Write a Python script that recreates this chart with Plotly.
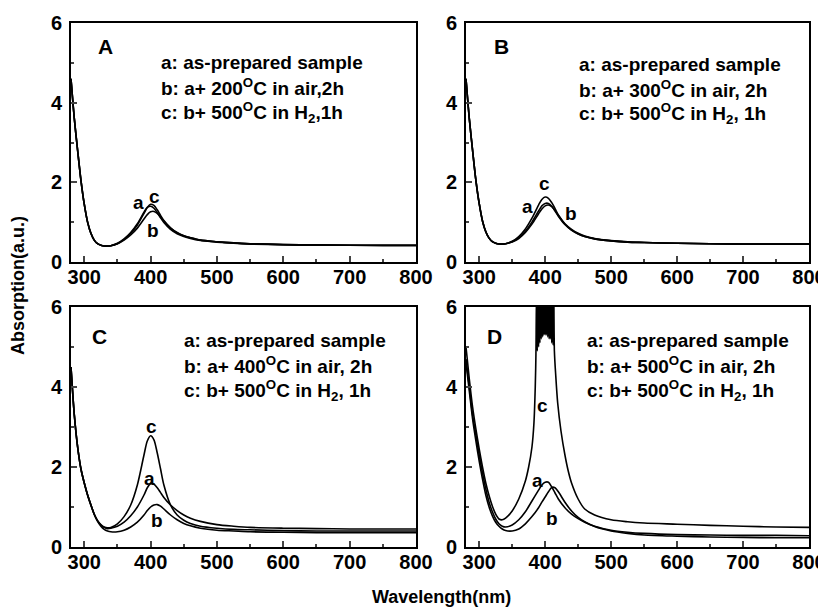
import plotly.graph_objects as go

# ---------------- data ----------------
WL = [280, 285, 290, 295, 300, 305, 310, 315, 320, 325, 330, 335, 340, 350, 360, 370,
      380, 390, 395, 400, 405, 410, 415, 420, 430, 440, 450, 460, 475, 500, 525, 550,
      600, 650, 700, 750, 800]

A_a = [4.6, 3.6, 2.8, 2.05, 1.45, 1.0, 0.72, 0.55, 0.46, 0.42, 0.40, 0.40, 0.41, 0.47, 0.58, 0.74,
       0.96, 1.25, 1.37, 1.40, 1.35, 1.24, 1.11, 0.99, 0.82, 0.71, 0.64, 0.59, 0.54, 0.50, 0.47, 0.45,
       0.43, 0.42, 0.42, 0.41, 0.41]
A_b = [4.6, 3.6, 2.8, 2.05, 1.45, 1.0, 0.72, 0.55, 0.46, 0.42, 0.40, 0.40, 0.41, 0.46, 0.55, 0.68,
       0.85, 1.08, 1.19, 1.26, 1.27, 1.22, 1.13, 1.03, 0.86, 0.74, 0.66, 0.61, 0.55, 0.51, 0.48, 0.46,
       0.44, 0.43, 0.42, 0.42, 0.42]
A_c = [4.6, 3.6, 2.8, 2.05, 1.45, 1.0, 0.72, 0.55, 0.46, 0.42, 0.40, 0.40, 0.41, 0.46, 0.57, 0.72,
       0.93, 1.22, 1.37, 1.45, 1.42, 1.31, 1.17, 1.04, 0.85, 0.73, 0.66, 0.61, 0.55, 0.51, 0.48, 0.46,
       0.44, 0.43, 0.42, 0.42, 0.42]

B_a = [4.6, 3.6, 2.8, 2.05, 1.47, 1.03, 0.76, 0.6, 0.51, 0.47, 0.45, 0.45, 0.46, 0.51, 0.61, 0.77,
       1.0, 1.28, 1.41, 1.47, 1.47, 1.40, 1.28, 1.15, 0.94, 0.80, 0.70, 0.64, 0.58, 0.53, 0.50, 0.49,
       0.47, 0.46, 0.45, 0.45, 0.45]
B_b = [4.6, 3.6, 2.8, 2.05, 1.47, 1.03, 0.76, 0.6, 0.51, 0.47, 0.45, 0.45, 0.46, 0.50, 0.59, 0.74,
       0.95, 1.21, 1.33, 1.41, 1.43, 1.39, 1.29, 1.17, 0.96, 0.82, 0.72, 0.65, 0.59, 0.54, 0.51, 0.49,
       0.47, 0.46, 0.45, 0.45, 0.45]
B_c = [4.6, 3.6, 2.8, 2.05, 1.47, 1.03, 0.76, 0.6, 0.51, 0.47, 0.45, 0.45, 0.46, 0.52, 0.64, 0.83,
       1.1, 1.43, 1.57, 1.63, 1.60, 1.49, 1.34, 1.18, 0.95, 0.80, 0.71, 0.64, 0.58, 0.53, 0.50, 0.49,
       0.47, 0.46, 0.45, 0.45, 0.45]

C_a = [4.5, 3.3, 2.5, 1.95, 1.6, 1.3, 1.05, 0.82, 0.66, 0.55, 0.49, 0.46, 0.47, 0.52, 0.62, 0.78,
       1.0, 1.3, 1.48, 1.58, 1.57, 1.48, 1.36, 1.24, 1.05, 0.91, 0.80, 0.72, 0.64, 0.56, 0.52, 0.49,
       0.47, 0.46, 0.45, 0.45, 0.45]
C_b = [4.5, 3.3, 2.5, 1.95, 1.6, 1.3, 1.05, 0.82, 0.64, 0.52, 0.44, 0.40, 0.38, 0.38, 0.42, 0.50,
       0.62, 0.80, 0.91, 1.0, 1.05, 1.06, 1.02, 0.95, 0.80, 0.68, 0.59, 0.53, 0.47, 0.42, 0.40, 0.38,
       0.37, 0.36, 0.36, 0.36, 0.36]
C_c = [4.5, 3.3, 2.5, 1.95, 1.6, 1.3, 1.05, 0.82, 0.66, 0.56, 0.50, 0.48, 0.49, 0.58, 0.76, 1.05,
       1.55, 2.3, 2.65, 2.78, 2.68, 2.35, 1.95, 1.55, 1.05, 0.80, 0.67, 0.59, 0.52, 0.47, 0.44, 0.43,
       0.41, 0.40, 0.40, 0.40, 0.40]

D_a = [4.7, 4.0, 3.3, 2.8, 2.3, 1.85, 1.45, 1.12, 0.88, 0.70, 0.58, 0.52, 0.50, 0.55, 0.68, 0.88,
       1.15, 1.42, 1.55, 1.62, 1.62, 1.50, 1.35, 1.20, 0.98, 0.82, 0.71, 0.62, 0.52, 0.42, 0.37, 0.34,
       0.31, 0.30, 0.29, 0.29, 0.28]
D_b = [4.6, 3.9, 3.2, 2.65, 2.15, 1.7, 1.3, 1.0, 0.78, 0.62, 0.52, 0.45, 0.41, 0.40, 0.45, 0.58,
       0.76, 0.98, 1.12, 1.25, 1.38, 1.49, 1.48, 1.38, 1.12, 0.90, 0.74, 0.63, 0.51, 0.40, 0.34, 0.30,
       0.27, 0.25, 0.24, 0.23, 0.23]

# panel D, curve c (saturated, noisy around the peak)
DC_WL = [280, 285, 290, 295, 300, 305, 310, 315, 320, 325, 330, 335, 340, 350, 360, 370, 375,
         380, 383, 385, 386, 387, 388, 389, 390, 391, 392, 393, 394, 395, 396, 397, 398, 399,
         400, 401, 402, 403, 404, 405, 406, 407, 408, 409, 410, 411, 412, 413, 414, 416, 419,
         424, 430, 435, 440, 450, 460, 475, 500, 525, 550, 600, 650, 700, 750, 800]
D_c = [5.0, 4.2, 3.5, 2.95, 2.45, 2.0, 1.6, 1.28, 1.02, 0.82, 0.70, 0.68, 0.72, 0.90, 1.2, 1.65, 2.0,
       2.5, 3.1, 4.0, 4.8, 6.5, 4.9, 6.5, 5.0, 6.5, 5.1, 6.5, 5.2, 6.5, 5.25, 6.5, 5.3, 6.5,
       5.3, 6.5, 5.3, 6.5, 5.25, 6.5, 5.2, 6.5, 5.2, 6.5, 5.1, 6.5, 5.05, 6.5, 4.9, 4.3, 3.6,
       2.9, 2.3, 1.9, 1.6, 1.2, 0.95, 0.8, 0.68, 0.63, 0.60, 0.57, 0.54, 0.52, 0.50, 0.49]

PANEL_LETTERS = ["A", "B", "C", "D"]
LEGEND_TEXT = [
    ["a: as-prepared sample", "b: a+ 200<sup>O</sup>C in air,2h", "c: b+ 500<sup>O</sup>C in H<sub>2</sub>,1h"],
    ["a: as-prepared sample", "b: a+ 300<sup>O</sup>C in air, 2h", "c: b+ 500<sup>O</sup>C in H<sub>2</sub>, 1h"],
    ["a: as-prepared sample", "b: a+ 400<sup>O</sup>C in air, 2h", "c: b+ 500<sup>O</sup>C in H<sub>2</sub>, 1h"],
    ["a: as-prepared sample", "b: a+ 500<sup>O</sup>C in air, 2h", "c: b+ 500<sup>O</sup>C in H<sub>2</sub>, 1h"],
]
X_TICKS = [300, 400, 500, 600, 700, 800]
Y_TICKS = [0, 2, 4, 6]

# ---------------- figure ----------------
# the page body has an 8px margin: the figure starts at window pixel (8, 8)
OFF = 8
W, H = 826 - OFF, 611 - OFF
FONT = "Arial"
fig = go.Figure()

def fx(px):  # window pixel x -> paper fraction
    return (px - OFF) / W

def fy(py):  # window pixel y -> paper fraction
    return 1 - (py - OFF) / H

# window-pixel boxes of the panels (left, right, top, bottom)
boxes = [(71, 416, 23, 262), (466, 809, 23, 262), (71, 416, 307, 547), (466, 809, 307, 547)]

panels = [
    [(WL, A_a), (WL, A_b), (WL, A_c)],
    [(WL, B_a), (WL, B_b), (WL, B_c)],
    [(WL, C_a), (WL, C_b), (WL, C_c)],
    [(WL, D_a), (WL, D_b), (DC_WL, D_c)],
]

layout = dict(width=W, height=H, margin=dict(l=0, r=0, t=0, b=0, pad=0, autoexpand=False),
              paper_bgcolor="white", plot_bgcolor="white", showlegend=False)

for i, (box, curves) in enumerate(zip(boxes, panels)):
    n = i + 1
    xa = "xaxis" if n == 1 else f"xaxis{n}"
    ya = "yaxis" if n == 1 else f"yaxis{n}"
    xr = "x" if n == 1 else f"x{n}"
    yr = "y" if n == 1 else f"y{n}"
    l, r, t, b = box
    layout[xa] = dict(domain=[fx(l), fx(r)], anchor=yr, range=[280, 800], automargin=False,
                      tickvals=X_TICKS, ticks="inside", ticklen=6, tickwidth=1.5,
                      showline=True, mirror=True, linewidth=2, linecolor="black",
                      showgrid=False, zeroline=False, ticklabelstandoff=-4,
                      tickfont=dict(family=FONT, size=20, color="black", weight="bold"),
                      minor=dict(dtick=50, tick0=300, ticks="inside", ticklen=3, tickwidth=1.5))
    layout[ya] = dict(domain=[fy(b), fy(t)], anchor=xr, range=[0, 6], automargin=False,
                      tickvals=Y_TICKS, ticks="inside", ticklen=6, tickwidth=1.5,
                      showline=True, mirror=True, linewidth=2, linecolor="black",
                      showgrid=False, zeroline=False, ticklabelstandoff=3,
                      tickfont=dict(family=FONT, size=20, color="black", weight="bold"),
                      minor=dict(dtick=1, ticks="inside", ticklen=3, tickwidth=1.5))
    for (xs, ys) in curves:
        fig.add_trace(go.Scatter(x=xs, y=ys, mode="lines", xaxis=xr, yaxis=yr,
                                 line=dict(color="black", width=1.6, shape="spline", smoothing=0.8),
                                 hoverinfo="skip"))

fig.update_layout(**layout)

ann = []
def px_ann(text, x, y, size=16, xanchor="left", **kw):
    ann.append(dict(text=text, x=fx(x), y=fy(y), xref="paper", yref="paper",
                    xanchor=xanchor, yanchor="middle", showarrow=False, borderpad=0,
                    font=dict(family=FONT, size=size, color="black", weight="bold"), **kw))

letter_pos = [(97, 46), (493, 46), (91, 336), (486, 336)]
legend_pos = [(160, 62), (578, 64), (183, 340), (586, 340)]
for i in range(4):
    px_ann(PANEL_LETTERS[i], *letter_pos[i], size=21)
    lx, ly = legend_pos[i]
    for j, line in enumerate(LEGEND_TEXT[i]):
        px_ann(line, lx, ly + j * 25, size=19)

curve_labels = [
    [("a", 138, 203), ("c", 154, 196), ("b", 153, 230)],
    [("c", 544, 183), ("a", 527, 206), ("b", 571, 213)],
    [("c", 151, 427), ("a", 149, 478), ("b", 157, 520)],
    [("c", 542, 405), ("a", 537, 480), ("b", 552, 518)],
]
for group in curve_labels:
    for (t, x, y) in group:
        px_ann(t, x, y, size=19, xanchor="center")

px_ann("Absorption(a.u.)", 18, 286, size=18, xanchor="center", textangle=-90)
px_ann("Wavelength(nm)", 441, 597, size=18, xanchor="center")

fig.update_layout(annotations=ann)
fig.write_html("out.html")
